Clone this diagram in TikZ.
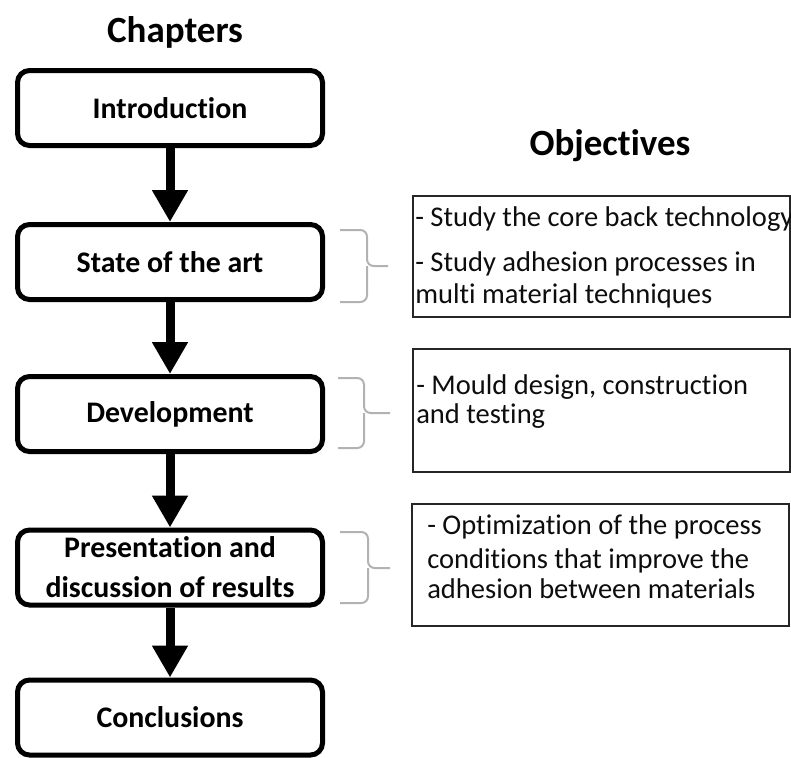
\documentclass[tikz,border=0pt]{standalone}
\usepackage{fontspec}
\setmainfont{Carlito}[Ligatures={NoCommon,NoContextual,NoRequired},RawFeature={-liga;-clig;-calt;-dlig;-rlig}]
\usetikzlibrary{arrows.meta}
\begin{document}
\begin{tikzpicture}[x=0.75pt,y=-0.75pt,
  chapbox/.style={draw=black, line width=3.75pt, rounded corners=9pt,
    minimum width=228.75pt, minimum height=56.25pt, inner sep=0pt,
    align=center, font=\bfseries\fontsize{22.4pt}{30pt}\selectfont},
  objbox/.style={draw=black!85, line width=1.5pt, anchor=north west,
    inner sep=0pt, minimum width=282.75pt},
  objtext/.style={anchor=base west, inner sep=0pt,
    font=\fontsize{21.4pt}{24pt}\selectfont, text=black!95},
  title/.style={anchor=base, inner sep=0pt,
    font=\bfseries\fontsize{27.75pt}{32pt}\selectfont},
  flow/.style={line width=6.75pt, -{Triangle[length=24pt,width=25.5pt]}},
  bracket/.style={draw=black!30, line width=1.5pt, rounded corners=5pt}
]
\useasboundingbox (0,0) rectangle (791,757);

% titles
\node[title] (chap) at (175,42) {Chapters};
\node[title] (obj) at (610,155) {Objectives};

% chapter boxes
\node[chapbox] (intro) at (170,108) {Introduction};
\node[chapbox] (state) at (170,262) {State of the art};
\node[chapbox] (dev)   at (170,414) {Development};
\node[chapbox] (pres)  at (170,567.5) {Presentation and\\discussion of results};
\node[chapbox] (concl) at (170,717.5) {Conclusions};

% arrows
\draw[flow] (intro.south) -- (state.north);
\draw[flow] (state.south) -- (dev.north);
\draw[flow] (dev.south) -- (pres.north);
\draw[flow] (pres.south) -- (concl.north);

% objective boxes
\node[objbox, minimum height=90.75pt] (ob1) at (412,195) {};
\node[objbox, minimum height=92.25pt] (ob2) at (412,348) {};
\node[objbox, minimum height=91.5pt]  (ob3) at (411,503) {};

\node[objtext] (t1a) at (415,226.6) {- Study the core back technology};
\node[objtext] (t1b) at (415,271.6) {- Study adhesion processes in};
\node[objtext] (t1c) at (415,303.6) {multi material techniques};

\node[objtext] (t2a) at (416,394.6) {- Mould design, construction};
\node[objtext] (t2b) at (416,423.3) {and testing};

\node[objtext] (t3a) at (427,534.6) {- Optimization of the process};
\node[objtext] (t3b) at (427,568.6) {conditions that improve the};
\node[objtext] (t3c) at (427,598.6) {adhesion between materials};

% brackets
\coordinate (b1t) at (340,230);
\coordinate (b1b) at (340,302);
\coordinate (b1m) at (367,266);
\coordinate (b1e) at (388,266);
\draw[bracket] (b1t) -| (b1m) -- (b1e);
\draw[bracket] (b1b) -| (b1m);

\coordinate (b2t) at (338,378);
\coordinate (b2b) at (338,448);
\coordinate (b2m) at (364,413);
\coordinate (b2e) at (390,413);
\draw[bracket] (b2t) -| (b2m) -- (b2e);
\draw[bracket] (b2b) -| (b2m);

\coordinate (b3t) at (340,532);
\coordinate (b3b) at (340,603);
\coordinate (b3m) at (368,568);
\coordinate (b3e) at (390,568);
\draw[bracket] (b3t) -| (b3m) -- (b3e);
\draw[bracket] (b3b) -| (b3m);
\end{tikzpicture}
\end{document}
